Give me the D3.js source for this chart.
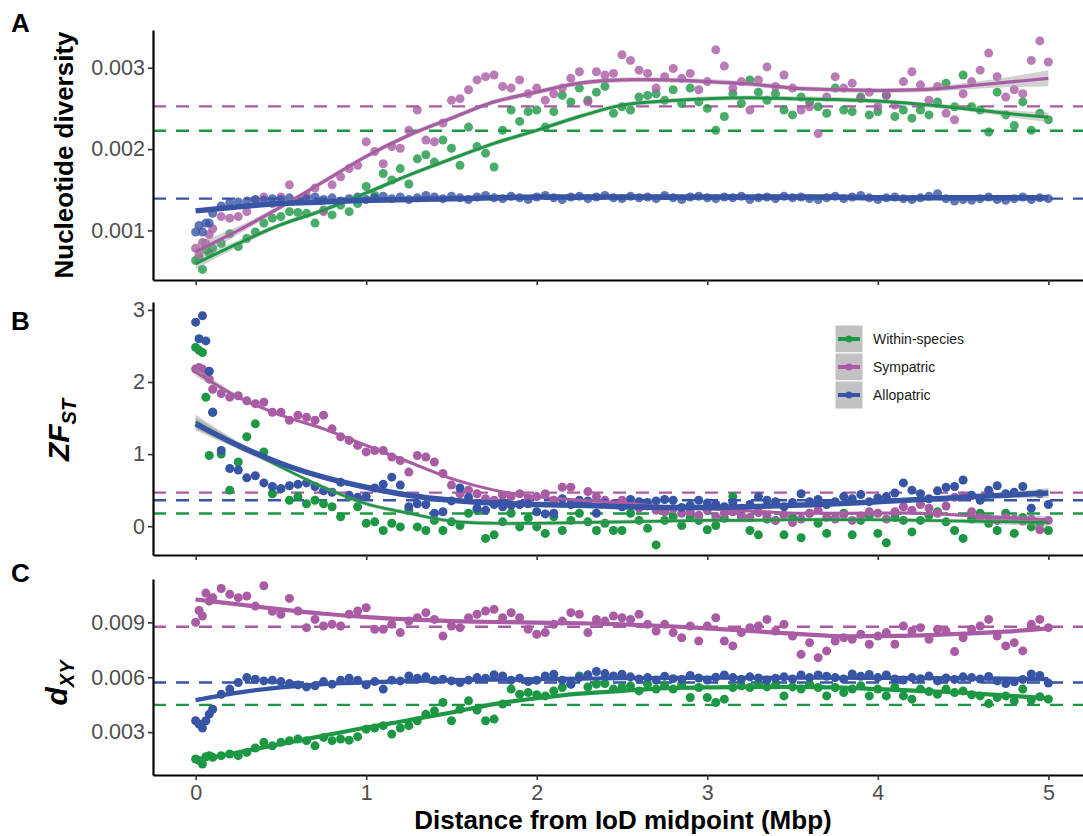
<!DOCTYPE html>
<html>
<head>
<meta charset="utf-8">
<script src="https://cdn.jsdelivr.net/npm/d3@7"></script>
<style>
  body { margin: 0; background: #fff; }
  svg { display: block; font-family: "Liberation Sans", Arial, Helvetica, sans-serif; }
</style>
</head>
<body>
<svg id="chart" width="1083" height="836"></svg>
<script>
// window positions (Mbp from IoD midpoint), shared by every series
var pos = [0,0.02,0.04,0.06,0.08,
  0.1,0.15,0.2,0.25,0.3,0.35,0.4,0.45,0.5,
  0.55,0.6,0.65,0.7,0.75,0.8,0.85,0.9,0.95,1.0,
  1.05,1.1,1.15,1.2,1.25,1.3,1.35,1.4,1.45,1.5,
  1.55,1.6,1.65,1.7,1.75,1.8,1.85,1.9,1.95,2.0,
  2.05,2.1,2.15,2.2,2.25,2.3,2.35,2.4,2.45,2.5,
  2.55,2.6,2.65,2.7,2.75,2.8,2.85,2.9,2.95,3.0,
  3.05,3.1,3.15,3.2,3.25,3.3,3.35,3.4,3.45,3.5,
  3.55,3.6,3.65,3.7,3.75,3.8,3.85,3.9,3.95,4.0,
  4.05,4.1,4.15,4.2,4.25,4.3,4.35,4.4,4.45,4.5,
  4.55,4.6,4.65,4.7,4.75,4.8,4.85,4.9,4.95,5.0];

var groups = ["Within-species", "Sympatric", "Allopatric"];
var groupColors = ["#1c9743", "#a95ba4", "#3754a5"];

// Panel A - nucleotide diversity
var piWithin = [0.00063,0.00066,0.00052,0.00076,0.00072,
  0.00078,0.00084,0.00096,0.0008,0.0009,0.00098,0.00109,0.00115,0.00117,
  0.00123,0.00122,0.00121,0.00109,0.00125,0.00119,0.00131,0.00123,0.00133,0.00154,
  0.00143,0.0017,0.00162,0.00176,0.00157,0.00188,0.00193,0.00184,0.00211,0.00201,
  0.0018,0.00227,0.00203,0.00195,0.00178,0.00223,0.00248,0.00234,0.00246,0.00248,
  0.00227,0.00246,0.00266,0.00258,0.00275,0.0026,0.0027,0.00277,0.00244,0.00252,
  0.00248,0.00264,0.00266,0.00268,0.0026,0.00273,0.00256,0.00275,0.00258,0.0025,
  0.00223,0.0024,0.00268,0.00256,0.00285,0.0027,0.0026,0.00268,0.00248,0.00242,
  0.00264,0.00258,0.00252,0.00244,0.00275,0.00248,0.00246,0.00264,0.00242,0.00246,
  0.00266,0.0024,0.00248,0.00238,0.00248,0.00242,0.00258,0.00281,0.00252,0.00291,
  0.00252,0.00248,0.00221,0.0027,0.00242,0.00229,0.00258,0.00223,0.00244,0.00236];
var piSympatric = [0.00078,0.0007,0.00085,0.00084,0.00095,
  0.00102,0.00117,0.00115,0.00117,0.00123,0.00137,0.00141,0.00133,0.00141,
  0.00156,0.00137,0.00143,0.00152,0.00123,0.00156,0.00166,0.00176,0.0018,0.00209,
  0.00197,0.00182,0.00203,0.00201,0.00223,0.00248,0.00211,0.00209,0.00232,0.0026,
  0.00262,0.00273,0.00285,0.00289,0.00291,0.00277,0.00275,0.00285,0.00268,0.00275,
  0.0026,0.00268,0.00275,0.00287,0.00295,0.00258,0.00295,0.00291,0.00293,0.00316,
  0.00309,0.00297,0.00293,0.00275,0.00289,0.00299,0.00287,0.00293,0.00273,0.00283,
  0.00322,0.00302,0.00275,0.00283,0.00248,0.00285,0.00301,0.00277,0.00291,0.00275,
  0.00248,0.00252,0.00219,0.00264,0.00289,0.00275,0.00281,0.00262,0.0027,0.00252,
  0.00266,0.00254,0.00283,0.00295,0.00279,0.0026,0.00277,0.00244,0.00236,0.00268,
  0.00283,0.00297,0.00318,0.00289,0.00264,0.00273,0.00268,0.00309,0.00333,0.00307];
var piAllopatric = [0.00098,0.00106,0.00098,0.00109,0.00109,
  0.00121,0.0013,0.00134,0.00135,0.00136,0.00138,0.00137,0.00139,0.00138,
  0.0014,0.00137,0.00139,0.00141,0.00138,0.0014,0.00136,0.00139,0.00141,0.00138,
  0.0014,0.00142,0.00139,0.00141,0.00138,0.0014,0.00143,0.00141,0.00139,0.00142,
  0.0014,0.00138,0.00141,0.00143,0.0014,0.00139,0.00142,0.0014,0.00138,0.00141,
  0.00143,0.0014,0.00138,0.00141,0.00142,0.00139,0.00141,0.00143,0.0014,0.00139,
  0.00142,0.0014,0.00141,0.00139,0.00143,0.0014,0.00138,0.00141,0.00142,0.0014,
  0.00139,0.00141,0.0014,0.00142,0.00138,0.0014,0.00141,0.00139,0.00142,0.0014,
  0.00141,0.00139,0.00138,0.0014,0.00142,0.00139,0.00141,0.00143,0.0014,0.00138,
  0.0014,0.00141,0.00139,0.00138,0.0014,0.00142,0.00145,0.00139,0.00136,0.00138,
  0.00137,0.00139,0.00141,0.00138,0.00137,0.00139,0.00141,0.00138,0.0014,0.00139];

// Panel B - ZFst
var zfstWithin = [2.48,2.44,2.41,1.79,0.98,
  1.58,1.0,0.5,0.89,1.24,1.42,1.03,0.45,0.52,
  0.36,0.41,0.31,0.36,0.31,0.27,0.13,0.41,0.27,0.04,
  0.06,-0.06,0.04,-0.01,0.22,-0.01,-0.06,0.08,-0.06,0.06,
  0.01,0.18,0.22,-0.17,-0.12,0.06,0.18,-0.01,0.11,-0.01,
  -0.1,0.13,-0.06,0.08,0.18,0.06,-0.06,0.04,-0.06,-0.06,
  0.18,0.08,-0.03,-0.26,0.08,0.13,0.01,0.12,0.08,-0.05,
  0.01,0.11,0.41,0.13,-0.06,-0.12,0.1,0.08,-0.12,0.12,
  -0.16,0.18,0.04,-0.1,0.11,0.18,-0.12,0.08,0.14,-0.1,
  -0.23,0.12,0.08,-0.08,0.08,0.15,0.2,0.06,-0.06,-0.17,
  0.1,0.18,0.04,-0.06,0.18,-0.1,0.12,-0.01,0.04,-0.06];
var zfstSympatric = [2.18,2.2,2.18,2.11,2.04,
  1.9,1.84,1.79,1.81,1.74,1.7,1.72,1.58,1.58,
  1.47,1.54,1.51,1.47,1.54,1.35,1.24,1.19,1.12,1.03,
  1.05,1.05,0.96,0.91,0.75,0.98,0.96,0.89,0.73,0.57,
  0.45,0.5,0.45,0.38,0.36,0.43,0.41,0.45,0.38,0.41,
  0.45,0.36,0.54,0.54,0.31,0.48,0.41,0.36,0.31,0.36,
  0.3,0.25,0.28,0.22,0.2,0.24,0.18,0.2,0.15,0.22,
  0.13,0.18,0.2,0.16,0.12,0.19,0.14,0.08,0.15,0.05,
  0.1,0.18,0.22,0.12,0.1,0.16,0.08,0.14,0.2,0.18,
  0.1,0.2,0.27,0.22,0.3,0.25,0.18,0.28,0.4,0.42,
  0.2,0.12,0.1,0.08,0.12,0.1,0.07,0.1,-0.05,0.08];
var zfstAllopatric = [2.83,2.6,2.92,2.57,2.15,
  1.58,1.05,0.8,0.78,0.67,0.7,0.6,0.55,0.52,
  0.56,0.58,0.6,0.55,0.49,0.47,0.61,0.43,0.4,0.41,
  0.53,0.58,0.68,0.57,0.27,0.31,0.3,0.18,0.2,0.35,
  0.53,0.4,0.25,0.22,0.3,0.27,0.29,0.3,0.31,0.2,
  0.17,0.18,0.38,0.3,0.36,0.35,0.18,0.32,0.3,0.27,
  0.37,0.34,0.33,0.35,0.37,0.36,0.26,0.29,0.36,0.32,
  0.3,0.27,0.33,0.25,0.3,0.41,0.36,0.34,0.27,0.33,
  0.45,0.34,0.37,0.3,0.34,0.41,0.38,0.44,0.34,0.39,
  0.41,0.46,0.6,0.5,0.45,0.38,0.49,0.54,0.55,0.64,
  0.43,0.36,0.5,0.56,0.45,0.47,0.55,0.25,0.45,0.3];

// Panel C - dXY
var dxyWithin = [0.00153,0.00144,0.00125,0.00165,0.00171,
  0.00162,0.00171,0.0018,0.00171,0.00189,0.00213,0.00244,0.00225,0.00244,
  0.00253,0.00262,0.00253,0.00225,0.00271,0.00253,0.00262,0.00256,0.00275,0.00316,
  0.00322,0.00335,0.00289,0.00322,0.00335,0.00362,0.00398,0.00416,0.00462,0.00362,
  0.00425,0.00471,0.0042,0.00362,0.00371,0.00453,0.00535,0.00507,0.00516,0.00504,
  0.00498,0.00525,0.00544,0.00562,0.00607,0.00547,0.00562,0.00565,0.00535,0.00544,
  0.00553,0.00525,0.00562,0.00535,0.00553,0.00535,0.00562,0.00489,0.00544,0.00489,
  0.00462,0.0048,0.00544,0.00553,0.00544,0.00562,0.00547,0.00558,0.00498,0.00547,
  0.00535,0.00562,0.00544,0.00498,0.00544,0.00516,0.00535,0.00553,0.00498,0.00535,
  0.00498,0.00544,0.00498,0.0048,0.00535,0.00522,0.00507,0.00535,0.00516,0.00525,
  0.00504,0.00498,0.00456,0.00489,0.00498,0.00471,0.00535,0.00475,0.00493,0.0048];
var dxySympatric = [0.009,0.00965,0.00935,0.0106,0.01016,
  0.01035,0.01085,0.01053,0.01035,0.01044,0.00989,0.011,0.0096,0.00944,
  0.01031,0.00962,0.00871,0.00916,0.0088,0.00889,0.0088,0.00944,0.00962,0.0098,
  0.00862,0.00862,0.00889,0.00844,0.00907,0.00925,0.00953,0.00916,0.00825,0.0088,
  0.00871,0.00925,0.00944,0.00962,0.00971,0.00925,0.00953,0.00925,0.00862,0.00835,
  0.00844,0.00889,0.00907,0.00953,0.00944,0.00844,0.00916,0.00907,0.00935,0.00925,
  0.00916,0.00944,0.00889,0.00853,0.00889,0.00844,0.00816,0.0088,0.00798,0.0088,
  0.00925,0.00798,0.00771,0.00844,0.00871,0.0088,0.00916,0.00853,0.00889,0.00825,
  0.00725,0.00789,0.00707,0.00744,0.00798,0.00816,0.00807,0.00835,0.0078,0.00825,
  0.00844,0.0078,0.0088,0.00853,0.00871,0.00807,0.00862,0.00853,0.0074,0.00816,
  0.00862,0.0088,0.00916,0.00825,0.00771,0.00789,0.00744,0.00889,0.00916,0.00871];
var dxyAllopatric = [0.00362,0.00344,0.00322,0.00362,0.00398,
  0.00425,0.00507,0.00535,0.00571,0.00598,0.00589,0.0058,0.00584,0.00576,
  0.00565,0.00558,0.00547,0.00553,0.00576,0.00562,0.00584,0.00595,0.00584,0.00558,
  0.00576,0.00535,0.00584,0.0058,0.00607,0.00595,0.00602,0.00584,0.00589,0.0058,
  0.00571,0.00584,0.00598,0.00595,0.00613,0.00607,0.00584,0.00595,0.00576,0.00584,
  0.00607,0.00616,0.00584,0.00562,0.00598,0.00613,0.00631,0.0062,0.00607,0.00616,
  0.00602,0.0059,0.00598,0.00585,0.00605,0.00592,0.00588,0.0061,0.00596,0.00585,
  0.006,0.00612,0.00598,0.00588,0.00602,0.00596,0.00585,0.00594,0.00602,0.0059,
  0.00612,0.00598,0.00612,0.00605,0.00598,0.0059,0.00618,0.00605,0.00615,0.00598,
  0.00612,0.0059,0.00585,0.00598,0.00592,0.00606,0.0058,0.00596,0.00588,0.00602,
  0.00598,0.0059,0.00604,0.0058,0.00565,0.00575,0.00588,0.00618,0.0061,0.00568];

// smoothed fits (loess) at knots, with standard error band half-widths
var fitPos = [0,0.25,0.5,0.75,1,1.25,1.5,1.75,2,2.25,2.5,2.75,3,3.25,3.5,3.75,4,4.25,4.5,4.75,5];
var piFitWithin = [0.00059,0.00084,0.00107,0.00125,0.00146,0.00168,0.00188,0.00207,0.00223,0.0024,0.00254,0.00259,0.00262,0.00263,0.00262,0.00261,0.00259,0.00255,0.0025,0.00244,0.00239];
var piFitSympatric = [0.00074,0.001,0.00129,0.0016,0.00191,0.00217,0.00238,0.00258,0.0027,0.00281,0.00285,0.00285,0.00283,0.0028,0.00275,0.00273,0.00272,0.00273,0.00277,0.00282,0.00287];
var piFitAllopatric = [0.00124,0.00129,0.00133,0.00135,0.00137,0.00138,0.00139,0.0014,0.00141,0.00141,0.00141,0.00141,0.00141,0.00141,0.00141,0.00141,0.0014,0.0014,0.0014,0.0014,0.0014];
var piSeWithin = [0.00007,0.00004,0.00003,0.00003,0.00003,0.00003,0.00003,0.00003,0.00003,0.00003,0.00003,0.00003,0.00003,0.00003,0.00003,0.00003,0.00003,0.00003,0.00003,0.00004,0.00006];
var piSeSympatric = [0.00009,0.00005,0.00003,0.00003,0.00003,0.00003,0.00003,0.00003,0.00003,0.00003,0.00003,0.00003,0.00003,0.00003,0.00003,0.00003,0.00003,0.00003,0.00004,0.00006,0.0001];
var piSeAllopatric = [0.00002,0.00001,0.00001,0.00001,0.00001,0.00001,0.00001,0.00001,0.00001,0.00001,0.00001,0.00001,0.00001,0.00001,0.00001,0.00001,0.00001,0.00001,0.00001,0.00001,0.00002];

var zfstFitWithin = [1.45,1.12,0.82,0.54,0.31,0.18,0.07,0.04,0.04,0.05,0.06,0.07,0.08,0.08,0.09,0.09,0.09,0.08,0.07,0.06,0.05];
var zfstFitSympatric = [2.14,1.79,1.54,1.35,1.12,0.89,0.66,0.5,0.41,0.36,0.32,0.27,0.24,0.21,0.18,0.18,0.18,0.18,0.15,0.12,0.09];
var zfstFitAllopatric = [1.42,1.12,0.87,0.68,0.54,0.43,0.36,0.32,0.3,0.29,0.27,0.26,0.26,0.27,0.29,0.31,0.34,0.37,0.4,0.43,0.46];
var zfstSeWithin = [0.1,0.05,0.03,0.03,0.03,0.03,0.03,0.03,0.03,0.03,0.03,0.03,0.03,0.03,0.03,0.03,0.03,0.03,0.03,0.04,0.06];
var zfstSeSympatric = [0.06,0.03,0.02,0.02,0.02,0.02,0.02,0.02,0.02,0.02,0.02,0.02,0.02,0.02,0.02,0.02,0.02,0.02,0.02,0.03,0.05];
var zfstSeAllopatric = [0.09,0.05,0.03,0.03,0.03,0.03,0.03,0.03,0.03,0.03,0.03,0.03,0.03,0.03,0.03,0.03,0.03,0.03,0.03,0.04,0.07];

var dxyFitWithin = [0.00144,0.00189,0.00235,0.0028,0.00325,0.00365,0.00407,0.00453,0.00485,0.0051,0.00525,0.0054,0.00544,0.00547,0.00547,0.00544,0.00535,0.00525,0.00515,0.005,0.00485];
var dxyFitSympatric = [0.01025,0.00998,0.00971,0.00947,0.00929,0.00916,0.00907,0.00902,0.00898,0.00895,0.00889,0.0088,0.00867,0.00853,0.00838,0.00825,0.00825,0.00829,0.00838,0.00849,0.00867];
var dxyFitAllopatric = [0.00475,0.00516,0.00544,0.00562,0.00571,0.0058,0.00584,0.00587,0.00589,0.00592,0.00595,0.00596,0.00597,0.00597,0.00597,0.00597,0.00596,0.00595,0.00594,0.00592,0.0059];
var dxySeWithin = [0.00008,0.00005,0.00004,0.00004,0.00004,0.00004,0.00004,0.00004,0.00004,0.00004,0.00004,0.00004,0.00004,0.00004,0.00004,0.00004,0.00004,0.00004,0.00004,0.00005,0.00007];
var dxySeSympatric = [0.00012,0.00006,0.00005,0.00005,0.00005,0.00005,0.00005,0.00005,0.00005,0.00005,0.00005,0.00005,0.00005,0.00005,0.00005,0.00005,0.00005,0.00005,0.00005,0.00006,0.0001];
var dxySeAllopatric = [0.0001,0.00005,0.00003,0.00003,0.00003,0.00003,0.00003,0.00003,0.00003,0.00003,0.00003,0.00003,0.00003,0.00003,0.00003,0.00003,0.00003,0.00003,0.00003,0.00004,0.00006];

// genome-wide means (dashed reference lines)
var piMeans = [0.002225, 0.002525, 0.00139];
var zfstMeans = [0.175, 0.466, 0.36];
var dxyMeans = [0.00449, 0.00876, 0.00571];

// axis ticks
var xTicks = [0, 1, 2, 3, 4, 5];
var piTicks = [0.001, 0.002, 0.003];
var zfstTicks = [0, 1, 2, 3];
var dxyTicks = [0.003, 0.006, 0.009];

var svg = d3.select("#chart");
var W = 1083;

var x = d3.scaleLinear().domain([-0.25, 5.25]).range([153, 1091]);

var panels = [
    { letter: "A", top: 30, bottom: 280, domain: [0.00039, 0.003464], ticks: piTicks, fmt: d3.format(".3f"),
      values: [piWithin, piSympatric, piAllopatric],
      fits: [piFitWithin, piFitSympatric, piFitAllopatric],
      ses: [piSeWithin, piSeSympatric, piSeAllopatric],
      means: piMeans, alpha: 0.8, widths: [3, 3.2, 5.5] },
    { letter: "B", top: 302, bottom: 555, domain: [-0.4, 3.11], ticks: zfstTicks, fmt: d3.format("d"),
      values: [zfstWithin, zfstSympatric, zfstAllopatric],
      fits: [zfstFitWithin, zfstFitSympatric, zfstFitAllopatric],
      ses: [zfstSeWithin, zfstSeSympatric, zfstSeAllopatric],
      means: zfstMeans, alpha: 1, widths: [2.6, 3, 5.5] },
    { letter: "C", top: 579, bottom: 775, domain: [0.000654, 0.01137], ticks: dxyTicks, fmt: d3.format(".3f"),
      values: [dxyWithin, dxySympatric, dxyAllopatric],
      fits: [dxyFitWithin, dxyFitSympatric, dxyFitAllopatric],
      ses: [dxySeWithin, dxySeSympatric, dxySeAllopatric],
      means: dxyMeans, alpha: 1, widths: [4.2, 4.2, 4.2] }
];

panels.forEach(function (p, pi) {
    var y = d3.scaleLinear().domain(p.domain).range([p.bottom, p.top]);
    var g = svg.append("g");

    // dashed genome-wide means
    g.selectAll("line.mean")
        .data(p.means)
        .enter().append("line")
        .attr("x1", 153).attr("x2", W)
        .attr("y1", function (d) { return y(d); })
        .attr("y2", function (d) { return y(d); })
        .attr("stroke", function (d, i) { return groupColors[i]; })
        .attr("stroke-width", 2.4)
        .attr("stroke-dasharray", "13,10");

    // points
    p.values.forEach(function (vals, gi) {
        g.append("g")
            .selectAll("circle")
            .data(vals)
            .enter().append("circle")
            .attr("cx", function (d, i) { return x(pos[i]); })
            .attr("cy", function (d) { return y(d); })
            .attr("r", 4.5)
            .attr("fill", groupColors[gi])
            .attr("fill-opacity", p.alpha);
    });

    // se ribbons then fitted curves
    p.fits.forEach(function (fit, gi) {
        var se = p.ses[gi];
        var area = d3.area()
            .x(function (d, i) { return x(fitPos[i]); })
            .y0(function (d, i) { return y(d - se[i]); })
            .y1(function (d, i) { return y(d + se[i]); })
            .curve(d3.curveCatmullRom);
        g.append("path")
            .attr("d", area(fit))
            .attr("fill", "#999999")
            .attr("fill-opacity", 0.45);
    });
    p.fits.forEach(function (fit, gi) {
        var line = d3.line()
            .x(function (d, i) { return x(fitPos[i]); })
            .y(function (d) { return y(d); })
            .curve(d3.curveCatmullRom);
        g.append("path")
            .attr("d", line(fit))
            .attr("fill", "none")
            .attr("stroke", groupColors[gi])
            .attr("stroke-width", p.widths[gi]);
    });

    // y axis
    var yAxis = g.append("g")
        .attr("transform", "translate(153,0)")
        .call(d3.axisLeft(y).tickValues(p.ticks).tickFormat(p.fmt).tickSize(5).tickSizeOuter(0).tickPadding(3));
    yAxis.selectAll("text").attr("font-size", 21.5).attr("fill", "#4d4d4d").attr("font-family", null);

    // x axis (labels only on the bottom panel)
    var xAxis = g.append("g")
        .attr("transform", "translate(0," + p.bottom + ")")
        .call(d3.axisBottom(x).tickValues(xTicks).tickFormat(d3.format("d")).tickSize(5).tickSizeOuter(0).tickPadding(5));
    xAxis.selectAll("text").attr("font-size", 21.5).attr("fill", "#4d4d4d").attr("font-family", null);
    if (pi < 2) xAxis.selectAll("text").remove();

    [yAxis, xAxis].forEach(function (ax) {
        ax.select(".domain").attr("stroke", "#000").attr("stroke-width", 2.2);
        ax.selectAll(".tick line").attr("stroke", "#333").attr("stroke-width", 1.6);
    });

    // panel letter
    svg.append("text")
        .attr("x", 11).attr("y", p.top + (pi === 0 ? 2 : pi === 1 ? 28 : 3))
        .attr("font-size", 26).attr("font-weight", "bold")
        .text(p.letter);
});

// y axis titles
svg.append("text")
    .attr("transform", "translate(73,155) rotate(-90)")
    .attr("text-anchor", "middle")
    .attr("font-size", 26).attr("font-weight", "bold")
    .text("Nucleotide diversity");

var zt = svg.append("text")
    .attr("transform", "translate(69,430) rotate(-90)")
    .attr("text-anchor", "middle")
    .attr("font-size", 30).attr("font-weight", "bold").attr("font-style", "italic");
zt.append("tspan").text("ZF");
zt.append("tspan").attr("font-size", 20).attr("dy", 7).text("ST");

var dt = svg.append("text")
    .attr("transform", "translate(67,683) rotate(-90)")
    .attr("text-anchor", "middle")
    .attr("font-size", 30).attr("font-weight", "bold").attr("font-style", "italic");
dt.append("tspan").text("d");
dt.append("tspan").attr("font-size", 20).attr("dy", 7).text("XY");

// x axis title
svg.append("text")
    .attr("x", 623).attr("y", 829)
    .attr("text-anchor", "middle")
    .attr("font-size", 26).attr("font-weight", "bold")
    .text("Distance from IoD midpoint (Mbp)");

// legend inside panel B
var legend = svg.append("g").attr("transform", "translate(835,325)");
groups.forEach(function (name, i) {
    var row = legend.append("g").attr("transform", "translate(0," + (i * 28) + ")");
    row.append("rect").attr("width", 28).attr("height", 28).attr("fill", "#c2c2c4")
        .attr("stroke", "#ffffff").attr("stroke-width", 1);
    row.append("line").attr("x1", 3).attr("x2", 25).attr("y1", 14).attr("y2", 14)
        .attr("stroke", groupColors[i]).attr("stroke-width", 4);
    row.append("circle").attr("cx", 14).attr("cy", 14).attr("r", 3.5).attr("fill", groupColors[i]);
    row.append("text").attr("x", 38).attr("y", 19).attr("font-size", 14).attr("fill", "#1a1a1a").text(name);
});
</script>
</body>
</html>
